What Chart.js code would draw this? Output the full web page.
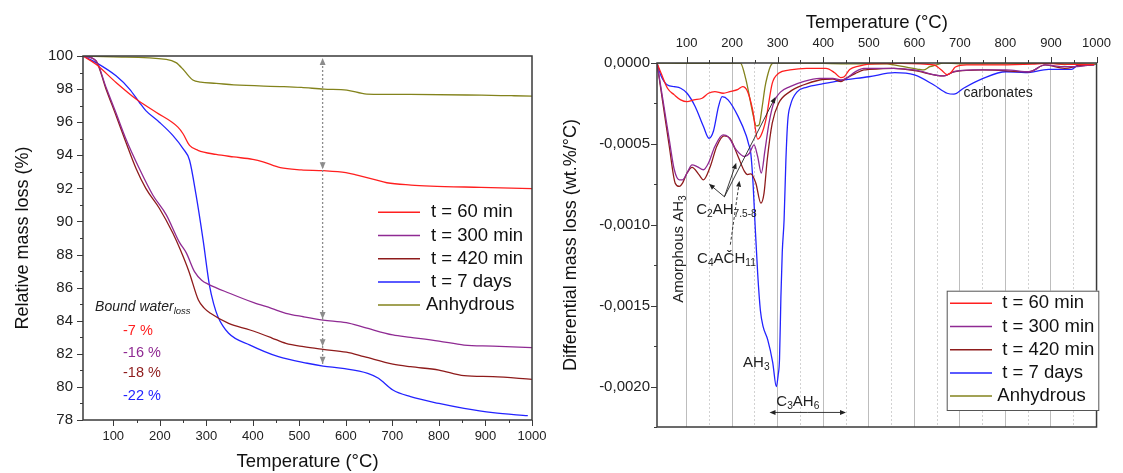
<!DOCTYPE html>
<html>
<head>
<meta charset="utf-8">
<script src="https://cdn.jsdelivr.net/npm/chart.js@4.4.1/dist/chart.umd.min.js"></script>
<style>
  html, body { margin: 0; padding: 0; background: #fff; }
  #wrap { position: relative; width: 1123px; height: 473px; }
  #tgCanvas { position: absolute; left: 0; top: 0; }
  #dtgCanvas { position: absolute; left: 560px; top: 0; }
</style>
</head>
<body>
<div id="wrap">
  <canvas id="tgCanvas" width="560" height="473"></canvas>
  <canvas id="dtgCanvas" width="563" height="473"></canvas>
</div>
<script>
var FONT = '"Liberation Sans", Arial, Helvetica, sans-serif';

// series
var seriesNames = ["t = 60 min", "t = 300 min", "t = 420 min", "t = 7 days", "Anhydrous"];
var seriesColors = ["#ff1f1f", "#8f2a93", "#8e1b1b", "#2323ff", "#83831c"];

// TG: relative mass (%) against temperature (°C)
var tgT60 = [35, 63, 106, 149, 192, 239, 250, 264, 282, 321, 359, 400, 422, 459, 504, 552, 600, 624, 660, 688, 740, 782, 890, 1000];
var tgM60 = [100, 99.5, 98.4, 97.4, 96.6, 95.7, 95.3, 94.6, 94.3, 94.05, 93.9, 93.75, 93.6, 93.25, 93.12, 93.07, 92.95, 92.8, 92.55, 92.34, 92.2, 92.14, 92.06, 91.98];
var tgT300 = [35, 63, 84, 106, 127, 156, 185, 214, 242, 257, 275, 290, 305, 350, 402, 440, 471, 509, 551, 601, 639, 701, 739, 800, 854, 916, 1000];
var tgM300 = [100, 99.72, 98.15, 96.55, 95.0, 93.2, 91.6, 90.4, 88.75, 88.1, 86.95, 86.45, 86.2, 85.66, 85.09, 84.75, 84.45, 84.24, 84.04, 83.88, 83.6, 83.14, 83.0, 82.77, 82.53, 82.47, 82.37];
var tgT420 = [35, 63, 84, 106, 127, 149, 170, 199, 228, 244, 263, 283, 296, 309, 348, 394, 440, 471, 509, 551, 601, 639, 701, 739, 800, 854, 916, 1000];
var tgM420 = [100, 99.7, 98.04, 96.4, 94.8, 93.2, 92.0, 90.8, 89.3, 88.3, 86.95, 85.25, 84.75, 84.45, 83.84, 83.44, 82.97, 82.63, 82.43, 82.27, 82.1, 81.83, 81.38, 81.22, 81.02, 80.68, 80.62, 80.46];
var tgT7d = [35, 63, 106, 135, 156, 170, 199, 228, 250, 264, 278, 293, 307, 316, 325, 348, 394, 455, 517, 551, 593, 647, 670, 701, 739, 800, 854, 916, 991];
var tgM7d = [100, 99.6, 98.8, 98.0, 97.2, 96.7, 96.0, 95.2, 94.4, 93.7, 91.6, 88.9, 86.1, 85.0, 84.24, 83.24, 82.53, 81.83, 81.43, 81.26, 81.12, 80.82, 80.52, 79.81, 79.41, 79.0, 78.7, 78.44, 78.26];
var tgTan = [35, 100, 214, 235, 250, 262, 271, 288, 321, 359, 467, 504, 553, 602, 645, 738, 892, 956, 1000];
var tgMan = [100, 99.95, 99.8, 99.6, 99.2, 98.8, 98.55, 98.42, 98.35, 98.25, 98.15, 98.1, 98.0, 97.94, 97.7, 97.68, 97.63, 97.6, 97.58];

// DTG: differential mass loss, in units of 1e-4 wt.%/°C
var DTG_UNIT = 1e-4;
var dtgT60 = [35, 44, 58, 73, 87, 101, 116, 134, 148, 162, 180, 195, 213, 223, 234, 245, 256, 263, 274, 288, 302, 327, 363, 406, 425, 438, 446, 458, 478, 500, 572, 643, 660, 672, 680, 690, 715, 787, 859, 887, 930, 995];
var dtgR60 = [0, -0.64, -1.56, -1.97, -2.28, -2.39, -2.28, -2.18, -1.87, -1.77, -1.87, -1.77, -1.63, -1.46, -1.77, -2.9, -4.7, -4.5, -3.52, -1.26, -0.64, -0.43, -0.33, -0.33, -0.6, -0.9, -0.85, -0.4, -0.19, -0.07, -0.02, -0.12, -0.45, -0.72, -0.6, -0.25, -0.12, -0.12, -0.07, -0.02, -0.07, -0.1];
var dtgT300 = [35, 48, 62, 73, 84, 91, 101, 112, 123, 137, 148, 162, 180, 191, 209, 227, 238, 248, 256, 264, 272, 281, 292, 306, 327, 356, 392, 421, 439, 450, 471, 489, 500, 555, 600, 665, 687, 730, 801, 852, 887, 930, 952, 995];
var dtgR300 = [0, -2.28, -4.75, -6.6, -7.22, -7.22, -6.8, -6.3, -6.4, -6.6, -6.19, -5.16, -4.44, -4.55, -5.37, -5.78, -5.58, -5.06, -5.78, -6.8, -5.4, -3.7, -2.4, -1.8, -1.46, -1.15, -0.95, -0.95, -1.05, -0.95, -0.53, -0.33, -0.33, -0.33, -0.43, -0.8, -0.54, -0.43, -0.43, -0.54, -0.12, -0.23, -0.23, -0.1];
var dtgT420 = [35, 48, 62, 75, 84, 91, 101, 112, 127, 137, 152, 166, 182, 195, 213, 227, 234, 241, 252, 263, 270, 277, 288, 302, 327, 356, 392, 421, 439, 450, 471, 489, 500, 555, 600, 665, 687, 751, 852, 887, 930, 960, 995];
var dtgR420 = [0, -2.5, -5.16, -7.43, -7.63, -7.43, -6.8, -6.45, -6.9, -7.22, -6.4, -5.16, -4.5, -4.65, -5.78, -6.7, -6.9, -6.85, -7.43, -8.66, -8.04, -5.98, -3.72, -2.49, -1.77, -1.36, -1.05, -1.0, -1.15, -0.95, -0.64, -0.43, -0.4, -0.33, -0.47, -0.8, -0.54, -0.43, -0.54, -0.12, -0.33, -0.18, -0.1];
var dtgT7d = [35, 44, 58, 73, 87, 101, 119, 137, 149, 159, 170, 178, 191, 213, 231, 236, 241, 246, 250, 256, 262, 268, 278, 289, 297, 301, 304, 307, 310, 314, 318, 322, 328, 342, 363, 400, 435, 500, 557, 600, 643, 672, 687, 708, 751, 801, 844, 895, 945, 960, 995];
var dtgR7d = [0, -0.8, -1.36, -1.46, -1.56, -1.87, -2.7, -3.93, -4.65, -4.2, -2.7, -2.08, -2.28, -3.3, -4.5, -5.0, -5.6, -7.5, -9.8, -13.0, -15.3, -16.3, -17.1, -18.5, -20.0, -19.3, -18.3, -14.5, -11.7, -9.7, -6.0, -3.6, -2.6, -1.8, -1.5, -1.28, -1.1, -0.85, -0.6, -0.74, -1.36, -1.87, -1.93, -1.56, -0.95, -0.54, -0.6, -0.4, -0.4, -0.13, -0.12];
var dtgTan = [35, 100, 200, 218, 230, 238, 246, 253, 259, 266, 272, 277, 284, 290, 350, 450, 540, 555, 577, 598, 612, 620, 634, 648, 663, 700, 800, 900, 930, 960, 1000];
var dtgRan = [0, -0.02, -0.02, 0, -1.0, -2.08, -3.2, -3.89, -3.83, -2.7, -1.5, -0.85, -0.2, 0, 0, -0.05, -0.05, -0.12, -0.23, -0.33, -0.4, -0.43, -0.23, -0.12, 0, -0.05, -0.05, 0, -0.1, -0.05, -0.08];

// bound water labels (left panel)
var waterLoss = ["-7 %", "-16 %", "-18 %", "-22 %"];

function pts(xs, ys, k) {
  return xs.map(function (x, i) { return { x: x, y: ys[i] * (k || 1) }; });
}

function makeSets(list, k) {
  return list.map(function (pair, i) {
    return {
      label: seriesNames[i],
      data: pts(pair[0], pair[1], k),
      borderColor: seriesColors[i],
      backgroundColor: seriesColors[i],
      borderWidth: 1.3,
      pointRadius: 0,
      fill: false,
      cubicInterpolationMode: 'monotone'
    };
  });
}

// keep only ticks that sit on the step
function keepSteps(step) {
  return function (s) {
    s.ticks = s.ticks.filter(function (t) {
      var k = t.value / step;
      return Math.abs(k - Math.round(k)) < 1e-6 && t.value >= s.min - 1e-12 && t.value <= s.max + 1e-12;
    });
  };
}

// short ticks for minor steps, long for labelled ones, plus the box
var frameTicks = {
  id: 'frameTicks',
  afterDraw: function (chart) {
    var ctx = chart.ctx, a = chart.chartArea;
    ctx.save();
    ctx.strokeStyle = '#3a3a3a';
    ctx.lineWidth = 1;
    Object.keys(chart.scales).forEach(function (id) {
      var s = chart.scales[id];
      s.ticks.forEach(function (t) {
        var p = Math.round(s.getPixelForValue(t.value)) + 0.5;
        var len = t.label === '' ? 3 : 6;
        ctx.beginPath();
        if (s.position === 'left') { ctx.moveTo(a.left, p); ctx.lineTo(a.left - len, p); }
        else if (s.position === 'bottom') { ctx.moveTo(p, a.bottom); ctx.lineTo(p, a.bottom + len); }
        else if (s.position === 'top') { ctx.moveTo(p, a.top); ctx.lineTo(p, a.top - len); }
        ctx.stroke();
      });
    });
    ctx.lineWidth = 1.5;
    ctx.strokeRect(a.left, a.top, a.right - a.left, a.bottom - a.top);
    ctx.restore();
  }
};

function boxLegend(cfg) {
  return {
    id: 'boxLegend',
    afterDraw: function (chart) {
      var ctx = chart.ctx;
      ctx.save();
      if (cfg.box) {
        ctx.fillStyle = '#fff';
        ctx.fillRect(cfg.box[0], cfg.box[1], cfg.box[2], cfg.box[3]);
        ctx.strokeStyle = '#555';
        ctx.lineWidth = 1;
        ctx.strokeRect(cfg.box[0] + 0.5, cfg.box[1] + 0.5, cfg.box[2], cfg.box[3]);
      }
      chart.data.datasets.forEach(function (ds, i) {
        var y = cfg.y + i * cfg.gap;
        ctx.strokeStyle = ds.borderColor;
        ctx.lineWidth = 1.5;
        ctx.beginPath();
        ctx.moveTo(cfg.x, y);
        ctx.lineTo(cfg.x + cfg.len, y);
        ctx.stroke();
        ctx.fillStyle = '#111';
        ctx.font = '18.5px ' + FONT;
        ctx.textAlign = 'left';
        ctx.textBaseline = 'middle';
        ctx.fillText(ds.label, cfg.textX + (ds.label.charAt(0) === 't' ? 5 : 0), y);
      });
      ctx.restore();
    }
  };
}

// text made of normal and subscript parts
function measureRich(ctx, parts, size, italic) {
  var w = 0;
  parts.forEach(function (p) {
    ctx.font = (italic ? 'italic ' : '') + (p[1] ? size * 0.68 : size) + 'px ' + FONT;
    w += ctx.measureText(p[0]).width;
  });
  return w;
}
function richText(ctx, parts, x, y, size, color, italic) {
  var cx = x;
  ctx.fillStyle = color;
  ctx.textAlign = 'left';
  ctx.textBaseline = 'middle';
  parts.forEach(function (p) {
    ctx.font = (italic ? 'italic ' : '') + (p[1] ? size * 0.68 : size) + 'px ' + FONT;
    ctx.fillText(p[0], cx, y + (p[1] ? size * 0.3 : 0));
    cx += ctx.measureText(p[0]).width;
  });
}

function arrowHead(ctx, x2, y2, ang, head) {
  ctx.beginPath();
  ctx.moveTo(x2, y2);
  ctx.lineTo(x2 - head * Math.cos(ang) + head * 0.42 * Math.sin(ang), y2 - head * Math.sin(ang) - head * 0.42 * Math.cos(ang));
  ctx.lineTo(x2 - head * Math.cos(ang) - head * 0.42 * Math.sin(ang), y2 - head * Math.sin(ang) + head * 0.42 * Math.cos(ang));
  ctx.closePath();
  ctx.fill();
}
function arrow(ctx, x1, y1, x2, y2, color, dash, head) {
  var ang = Math.atan2(y2 - y1, x2 - x1);
  ctx.save();
  ctx.strokeStyle = color;
  ctx.fillStyle = color;
  ctx.lineWidth = 0.9;
  ctx.setLineDash(dash || []);
  ctx.beginPath();
  ctx.moveTo(x1, y1);
  ctx.lineTo(x2 - Math.cos(ang) * head * 0.7, y2 - Math.sin(ang) * head * 0.7);
  ctx.stroke();
  ctx.setLineDash([]);
  arrowHead(ctx, x2, y2, ang, head);
  ctx.restore();
}

function at(chart, t, v) {
  return { x: chart.scales.x.getPixelForValue(t), y: chart.scales.y.getPixelForValue(v) };
}

// left panel notes: dotted marker at 550 °C and bound water values
var tgNotes = {
  id: 'tgNotes',
  afterDatasetsDraw: function (chart) {
    var ctx = chart.ctx;
    var top = at(chart, 550, 99.88), bot = at(chart, 550, 81.3);
    ctx.save();
    ctx.strokeStyle = '#8c8c8c';
    ctx.fillStyle = '#8c8c8c';
    ctx.lineWidth = 1.3;
    ctx.setLineDash([2, 2]);
    ctx.beginPath();
    ctx.moveTo(top.x, top.y + 4);
    ctx.lineTo(bot.x, bot.y);
    ctx.stroke();
    ctx.setLineDash([]);
    arrowHead(ctx, top.x, top.y, -Math.PI / 2, 7);
    [93.15, 84.1, 82.45, 81.4].forEach(function (v) {
      var p = at(chart, 550, v);
      arrowHead(ctx, p.x, p.y, Math.PI / 2, 7);
    });
    var b = at(chart, 61, 84.8);
    richText(ctx, [["Bound water", 0], ["loss", 1]], b.x, b.y, 14, '#222', true);
    var lossY = [83.4, 82.07, 80.86, 79.47];
    waterLoss.forEach(function (txt, i) {
      var p = at(chart, 121, lossY[i]);
      ctx.font = '14.5px ' + FONT;
      ctx.fillStyle = seriesColors[i];
      ctx.textAlign = 'left';
      ctx.textBaseline = 'middle';
      ctx.fillText(txt, p.x, p.y);
    });
    ctx.restore();
  }
};

// right panel notes: phase labels and arrows
var dtgNotes = {
  id: 'dtgNotes',
  afterDatasetsDraw: function (chart) {
    var ctx = chart.ctx;
    ctx.save();
    var am = at(chart, 82, -0.00115);
    var amParts = [["Amorphous AH", 0], ["3", 1]];
    var w = measureRich(ctx, amParts, 15);
    ctx.save();
    ctx.translate(am.x, am.y);
    ctx.rotate(-Math.PI / 2);
    richText(ctx, amParts, -w / 2, 0, 15, '#222');
    ctx.restore();

    var p = at(chart, 121, -0.000907);
    richText(ctx, [["C", 0], ["2", 1], ["AH", 0], ["7.5-8", 1]], p.x, p.y, 15, '#222');
    p = at(chart, 123, -0.00121);
    richText(ctx, [["C", 0], ["4", 1], ["AČH", 0], ["11", 1]], p.x, p.y, 15, '#222');
    p = at(chart, 224, -0.001852);
    richText(ctx, [["AH", 0], ["3", 1]], p.x, p.y, 15, '#222');
    p = at(chart, 297, -0.002093);
    richText(ctx, [["C", 0], ["3", 1], ["AH", 0], ["6", 1]], p.x, p.y, 15, '#222');
    p = at(chart, 708, -0.000185);
    richText(ctx, [["carbonates", 0]], p.x, p.y, 14, '#222');

    var o = at(chart, 183, -0.000827);
    [[149, -0.000747], [209, -0.000617], [295, -0.00021]].forEach(function (tip) {
      var q = at(chart, tip[0], tip[1]);
      arrow(ctx, o.x, o.y, q.x, q.y, '#222', null, 6);
    });
    var d1 = at(chart, 196, -0.001123), d2 = at(chart, 216, -0.000728);
    arrow(ctx, d1.x, d1.y, d2.x, d2.y, '#222', [3, 2], 6);

    var l = at(chart, 282, -0.00216), r = at(chart, 450, -0.00216);
    var mid = (l.x + r.x) / 2;
    arrow(ctx, mid, l.y, l.x, l.y, '#222', null, 6);
    arrow(ctx, mid, r.y, r.x, r.y, '#222', null, 6);
    ctx.restore();
  }
};

// left panel: TG curves
new Chart(document.getElementById('tgCanvas'), {
  type: 'line',
  data: {
    datasets: makeSets([[tgT60, tgM60], [tgT300, tgM300], [tgT420, tgM420], [tgT7d, tgM7d], [tgTan, tgMan]])
  },
  options: {
    responsive: false,
    animation: false,
    layout: { padding: { top: 56, right: 28, bottom: 0, left: 0 } },
    plugins: { legend: { display: false }, tooltip: { enabled: false } },
    scales: {
      x: {
        type: 'linear', position: 'bottom', min: 35, max: 1000,
        afterBuildTicks: keepSteps(50),
        afterFit: function (s) { s.height = 53; },
        grid: { display: false, drawTicks: false },
        border: { display: false },
        ticks: {
          stepSize: 50, padding: 9, autoSkip: false, maxRotation: 0, color: '#222',
          font: { size: 13, family: FONT },
          callback: function (v) { return v % 100 === 0 ? v : ''; }
        },
        title: { display: true, text: 'Temperature (°C)', color: '#111', font: { size: 18.5, family: FONT }, padding: { top: 0, bottom: 0 } }
      },
      y: {
        type: 'linear', min: 78, max: 100,
        afterBuildTicks: keepSteps(1),
        afterFit: function (s) { s.width = 83; },
        grid: { display: false, drawTicks: false },
        border: { display: false },
        ticks: {
          stepSize: 1, padding: 10, autoSkip: false, color: '#222',
          font: { size: 15, family: FONT },
          callback: function (v) { return v % 2 === 0 ? v : ''; }
        },
        title: { display: true, text: 'Relative mass loss (%)', color: '#111', font: { size: 18, family: FONT }, padding: { top: 12, bottom: 0 } }
      }
    }
  },
  plugins: [tgNotes, frameTicks, boxLegend({ x: 378, len: 42, textX: 426, y: 212.3, gap: 23.2 })]
});

// right panel: DTG curves
new Chart(document.getElementById('dtgCanvas'), {
  type: 'line',
  data: {
    datasets: makeSets([[dtgT60, dtgR60], [dtgT300, dtgR300], [dtgT420, dtgR420], [dtgT7d, dtgR7d], [dtgTan, dtgRan]], DTG_UNIT)
  },
  options: {
    responsive: false,
    animation: false,
    layout: { padding: { top: 0, right: 17, bottom: 46, left: 0 } },
    plugins: { legend: { display: false }, tooltip: { enabled: false } },
    scales: {
      x: {
        type: 'linear', position: 'top', min: 35, max: 1000,
        afterBuildTicks: keepSteps(50),
        afterFit: function (s) { s.height = 63; },
        grid: {
          drawTicks: false, lineWidth: 1,
          color: function (c) { return c.tick && c.tick.value % 100 === 0 ? '#bdbdbd' : '#d2d2d2'; }
        },
        border: {
          display: false,
          dash: function (c) { return c.tick && c.tick.value % 100 === 0 ? [] : [2, 2]; }
        },
        ticks: {
          stepSize: 50, padding: 12, autoSkip: false, maxRotation: 0, color: '#222',
          font: { size: 13, family: FONT },
          callback: function (v) { return v % 100 === 0 ? v : ''; }
        },
        title: { display: true, text: 'Temperature (°C)', color: '#111', font: { size: 18.5, family: FONT }, padding: { top: 12, bottom: 0 } }
      },
      y: {
        type: 'linear', min: -0.00225, max: 0,
        afterBuildTicks: keepSteps(0.00025),
        afterFit: function (s) { s.width = 97; },
        grid: { display: false, drawTicks: false },
        border: { display: false },
        ticks: {
          stepSize: 0.00025, padding: 7, autoSkip: false, color: '#222',
          font: { size: 15, family: FONT },
          callback: function (v) {
            var k = Math.round(v / 0.00025);
            if (k % 2 !== 0) return '';
            return (Math.abs(v) < 1e-9 ? 0 : v).toFixed(4).replace('.', ',');
          }
        },
        title: { display: true, text: 'Differential mass loss (wt.%/°C)', color: '#111', font: { size: 18, family: FONT }, padding: { top: 0, bottom: 0 } }
      }
    }
  },
  plugins: [dtgNotes, frameTicks, boxLegend({ x: 390, len: 42, textX: 437.3, y: 303.3, gap: 23.2, box: [386.7, 290.7, 151.6, 119.3] })]
});
</script>
</body>
</html>
